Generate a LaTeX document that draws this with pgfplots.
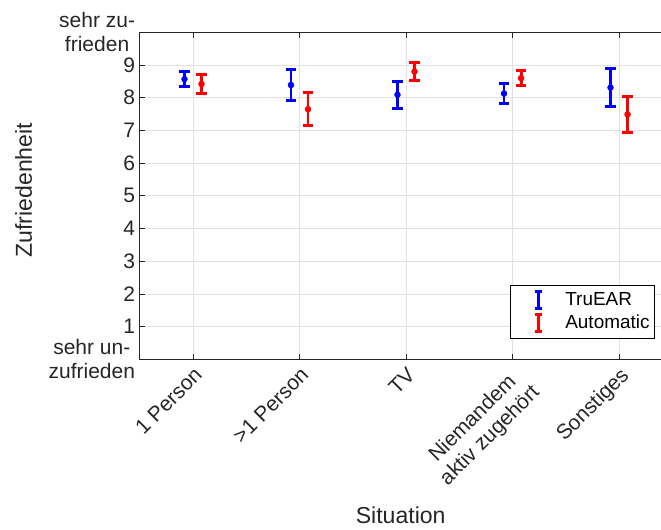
\documentclass[border=0pt]{standalone}
\usepackage{pgfplots}
\pgfplotsset{compat=1.18}
\usepackage{pgfplotstable}
\usepackage{fontspec}
\setmainfont{Liberation Sans}
\definecolor{axgray}{RGB}{38,38,38}
\definecolor{gridgray}{RGB}{225,225,225}
\definecolor{mblue}{RGB}{0,0,255}
\definecolor{mred}{RGB}{255,0,0}

% mean and half-width of the interval
\pgfplotstableread{
x     y     err
0.92  8.57  0.24
1.92  8.39  0.465
2.92  8.09  0.42
3.92  8.13  0.305
4.92  8.31  0.585
}\trueear
\pgfplotstableread{
x     y     err
1.08  8.42  0.28
2.08  7.65  0.505
3.08  8.80  0.28
4.08  8.60  0.22
5.08  7.49  0.555
}\automatic

\begin{document}
\begin{tikzpicture}
\begin{axis}[
    scale only axis,
    width=399.4pt, height=245.2pt,
    xmin=0.5, xmax=5.5,
    ymin=0, ymax=10,
    xtick={1,2,3,4,5},
    xticklabels={1 Person,{>1 Person},TV,{Niemandem\\aktiv zugehört},Sonstiges},
    ytick={0,1,2,3,4,5,6,7,8,9,10},
    yticklabels={{sehr un-\\zufrieden},1,2,3,4,5,6,7,8,9,{sehr zu-\\frieden}},
    xticklabel style={rotate=45, anchor=north east, align=center},
    yticklabel style={align=center},
    tick label style={font=\fontsize{15.75}{18}\selectfont, text=axgray},
    label style={font=\fontsize{17.3}{20}\selectfont, text=axgray},
    xlabel={Situation},
    ylabel={Zufriedenheit},
    xlabel style={at={(axis description cs:0.49,-0.478)}, anchor=center},
    ylabel style={at={(axis description cs:-0.218,0.517)}, anchor=center},
    tick align=inside,
    major tick length=4pt,
    xtick pos=both, ytick pos=both,
    grid=major,
    major grid style={gridgray, line width=0.6pt},
    axis line style={axgray, line width=0.6pt},
    every tick/.style={axgray, line width=0.6pt},
    legend cell align=left,
    legend style={at={(rel axis cs:0.968,0.064)}, anchor=south east,
        draw=black, line width=0.6pt, fill=white,
        font=\fontsize{14.2}{17}\selectfont, inner xsep=2pt, inner ysep=3.5pt,
        row sep=1.5pt},
    legend image code/.code={
        \path[draw=none] (0,0) -- (1.3cm,0);
        \draw[#1, line width=2.2pt] (0.66cm,-0.23cm) -- (0.66cm,0.23cm);
        \draw[#1, line width=2.2pt] (0.56cm,-0.23cm) -- (0.76cm,-0.23cm)
             (0.56cm,0.23cm) -- (0.76cm,0.23cm);
    },
    clip=false,
]
\addplot[mblue, only marks, mark=*, mark size=2.2pt,
    error bars/.cd, y dir=both, y explicit,
    error bar style={line width=2.2pt},
    error mark options={line width=2.2pt, mark size=3.8pt, rotate=90}]
    table[x=x, y=y, y error=err] {\trueear};
\addlegendentry{TruEAR}
\addplot[mred, only marks, mark=*, mark size=2.2pt,
    error bars/.cd, y dir=both, y explicit,
    error bar style={line width=2.2pt},
    error mark options={line width=2.2pt, mark size=3.8pt, rotate=90}]
    table[x=x, y=y, y error=err] {\automatic};
\addlegendentry{Automatic}
\coordinate (BL) at (axis cs:-0.812,-5.20);
\coordinate (TR) at (axis cs:5.394,10.99);
\end{axis}
\pgfresetboundingbox
\useasboundingbox (BL) rectangle (TR);
\end{tikzpicture}
\end{document}
